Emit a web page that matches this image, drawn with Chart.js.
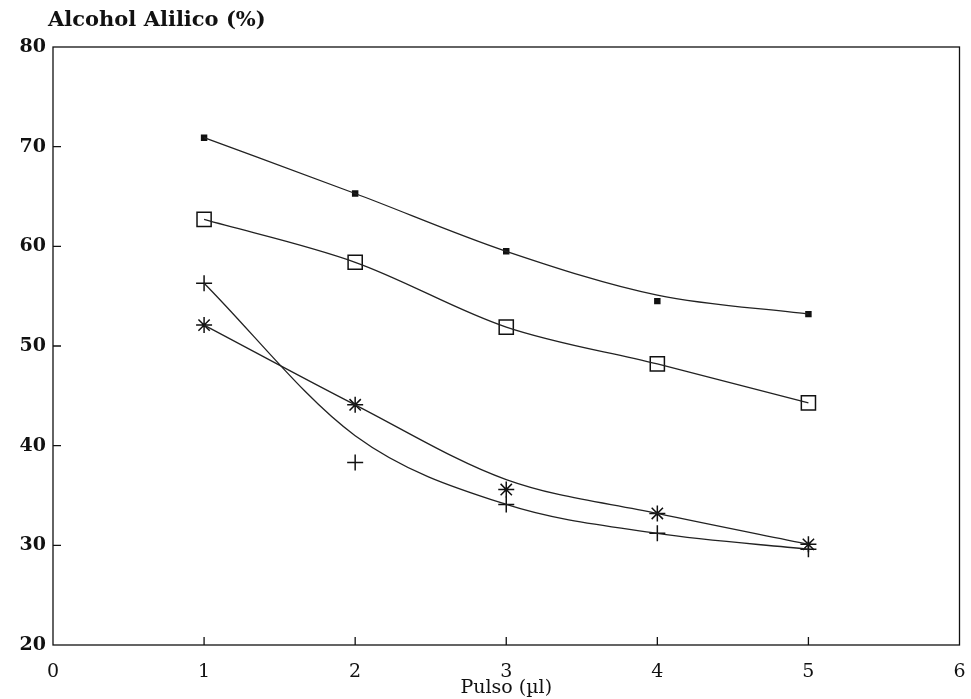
<!DOCTYPE html>
<html>
<head>
<meta charset="utf-8">
<title>Alcohol Alilico</title>
<script src="https://cdn.jsdelivr.net/npm/chart.js@4.4.1/dist/chart.umd.min.js"></script>
<style>
    body { margin: 0; background: #fff; }
    #grafico { display: block; }
</style>
</head>
<body>
<canvas id="grafico" width="971" height="699"></canvas>
<script>
// Datos
var pulso = [1, 2, 3, 4, 5];

// puntos medidos
var serieCuadradoLleno = [70.9, 65.3, 59.5, 54.5, 53.2];
var serieCuadrado = [62.7, 58.4, 51.9, 48.2, 44.3];
var serieCruz = [56.3, 38.3, 34.1, 31.2, 29.6];
var serieAsterisco = [52.1, 44.1, 35.6, 33.2, 30.1];

// curvas ajustadas (no siempre pasan por el punto)
var curvaCuadradoLleno = [70.9, 65.3, 59.5, 55.1, 53.2];
var curvaCuadrado = [62.7, 58.4, 51.9, 48.2, 44.3];
var curvaCruz = [56.3, 41.0, 34.1, 31.2, 29.6];
var curvaAsterisco = [52.1, 44.1, 36.6, 33.2, 30.1];

var ticksX = [0, 1, 2, 3, 4, 5, 6];
var ticksY = [20, 30, 40, 50, 60, 70, 80];

var TINTA = '#111';
var FUENTE = "'DejaVu Serif', 'Liberation Serif', serif";

function puntos(valores) {
    return pulso.map(function (x, i) { return { x: x, y: valores[i] }; });
}

function curva(valores) {
    return {
        data: puntos(valores),
        showLine: true,
        borderColor: '#222',
        borderWidth: 1.3,
        pointRadius: 0,
        cubicInterpolationMode: 'monotone',
        fill: false
    };
}

function marcas(valores, estilo, radio, relleno) {
    return {
        data: puntos(valores),
        showLine: false,
        pointStyle: estilo,
        pointRadius: radio,
        pointBorderColor: TINTA,
        pointBackgroundColor: relleno,
        pointBorderWidth: 1.5
    };
}

// Marco, marcas interiores y titulo del eje Y
var marcoPlugin = {
    id: 'marco',
    afterDraw: function (chart) {
        var ctx = chart.ctx;
        var a = chart.chartArea;
        var sx = chart.scales.x;
        var sy = chart.scales.y;
        ctx.save();
        ctx.strokeStyle = TINTA;
        ctx.lineWidth = 1.3;
        ctx.strokeRect(a.left, a.top, a.right - a.left, a.bottom - a.top);

        ctx.beginPath();
        ticksX.slice(1, -1).forEach(function (v) {
            var px = sx.getPixelForValue(v);
            ctx.moveTo(px, a.bottom);
            ctx.lineTo(px, a.bottom - 8);
        });
        ticksY.slice(1, -1).forEach(function (v) {
            var py = sy.getPixelForValue(v);
            ctx.moveTo(a.left, py);
            ctx.lineTo(a.left + 8, py);
        });
        ctx.stroke();

        ctx.fillStyle = TINTA;
        ctx.font = 'bold 21px ' + FUENTE;
        ctx.textBaseline = 'middle';
        ctx.textAlign = 'left';
        ctx.fillText('Alcohol Alilico (%)', 48, 21);
        ctx.restore();
    }
};

var ctx = document.getElementById('grafico').getContext('2d');
var grafico = new Chart(ctx, {
    type: 'scatter',
    data: {
        datasets: [
            curva(curvaCuadradoLleno),
            curva(curvaCuadrado),
            curva(curvaCruz),
            curva(curvaAsterisco),
            marcas(serieCuadradoLleno, 'rect', 3.5, TINTA),
            marcas(serieCuadrado, 'rect', 10, '#fff'),
            marcas(serieCruz, 'cross', 8, TINTA),
            marcas(serieAsterisco, 'star', 8, TINTA)
        ]
    },
    options: {
        responsive: false,
        animation: false,
        layout: { padding: { top: 47, right: 2, bottom: 0, left: 0 } },
        plugins: {
            legend: { display: false },
            tooltip: { enabled: false }
        },
        scales: {
            x: {
                type: 'linear',
                min: 0,
                max: 6,
                afterBuildTicks: function (scale) {
                    scale.ticks = ticksX.map(function (v) { return { value: v }; });
                },
                afterFit: function (scale) {
                    scale.height = 54;
                    scale.paddingLeft = 0;
                    scale.paddingRight = 0;
                },
                grid: { display: false, drawTicks: false, tickLength: 0 },
                border: { display: false },
                ticks: {
                    padding: 16,
                    color: TINTA,
                    font: { family: FUENTE, size: 19 }
                },
                title: {
                    display: true,
                    text: 'Pulso (µl)',
                    color: TINTA,
                    padding: { top: 0, bottom: 0 },
                    font: { family: FUENTE, size: 19 }
                }
            },
            y: {
                type: 'linear',
                min: 20,
                max: 80,
                afterBuildTicks: function (scale) {
                    scale.ticks = ticksY.map(function (v) { return { value: v }; });
                },
                afterFit: function (scale) {
                    scale.width = 53;
                    scale.paddingTop = 0;
                    scale.paddingBottom = 0;
                },
                grid: { display: false, drawTicks: false, tickLength: 0 },
                border: { display: false },
                ticks: {
                    padding: 7,
                    color: TINTA,
                    font: { family: FUENTE, size: 19, weight: 'bold' }
                }
            }
        }
    },
    plugins: [marcoPlugin]
});
</script>
</body>
</html>
